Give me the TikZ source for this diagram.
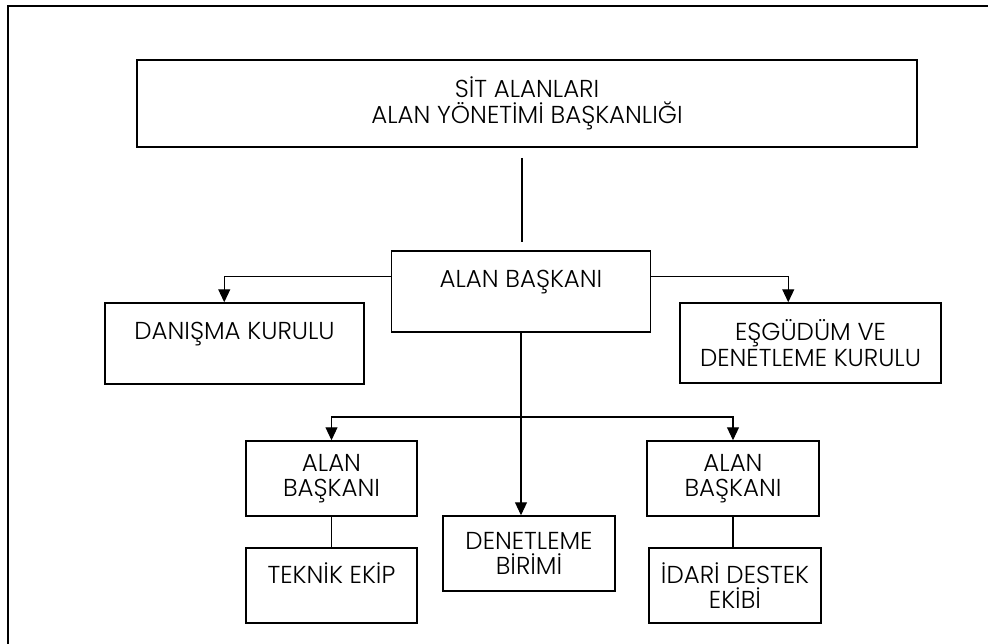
\documentclass[tikz,border=0pt]{standalone}
\usepackage{fontspec}
\setmainfont{Poppins}[UprightFont=* Light]
\usetikzlibrary{arrows.meta,calc}
\begin{document}
\begin{tikzpicture}[x=1pt,y=-1pt,
  box/.style={draw,line width=1.5pt,rectangle,inner sep=0pt,align=center,
    font=\fontsize{24.5}{25.5}\selectfont},
  conn/.style={line width=1.1pt},
  arr/.style={conn,-{Triangle[length=13pt,width=12pt]}}]
\useasboundingbox (0,0) rectangle (988,643);
% frame
\draw[line width=1.5pt] (8,650) -- (8,6) -- (995,6);
% boxes
\node[box,minimum width=780pt,minimum height=87pt] (top) at (527,103.5)
  {SİT ALANLARI\\ALAN YÖNETİMİ BAŞKANLIĞI};
\node[box,minimum width=259pt,minimum height=81pt] (main) at (521,291.5)
  {ALAN BAŞKANI\\\mbox{}};
\node[box,minimum width=259pt,minimum height=81pt] (dan) at (234.5,343.5)
  {DANIŞMA KURULU\\\mbox{}};
\node[box,minimum width=261pt,minimum height=80pt] (esg) at (810.5,343)
  {EŞGÜDÜM VE\\DENETLEME KURULU};
\node[box,minimum width=171pt,minimum height=75pt] (lb) at (331.5,478.5)
  {ALAN\\BAŞKANI};
\node[box,minimum width=172pt,minimum height=75pt] (rb) at (733,478.5)
  {ALAN\\BAŞKANI};
\node[box,minimum width=172pt,minimum height=75pt] (den) at (529,553.5)
  {DENETLEME\\BİRİMİ};
\node[box,minimum width=171pt,minimum height=75pt] (tek) at (331.5,585.5)
  {TEKNİK EKİP\\\mbox{}};
\node[box,minimum width=172pt,minimum height=75pt] (ida) at (735,585.5)
  {İDARİ DESTEK\\EKİBİ};
% connectors
\draw[conn] ($(top.south)+(-5,10)$) -- ($(main.north)+(1,-8)$);
\draw[arr] ($(main.north west)+(0,26)$) -| ($(dan.north west)+(120,0)$);
\draw[arr] ($(main.north east)+(0,26)$) -| ($(esg.north west)+(109,0)$);
\draw[arr] (main.south) -- (main.south |- den.north);
\coordinate (br) at (521,417);
\draw[arr] (br) -| (lb.north);
\draw[arr] (br) -| (rb.north);
\draw[conn] (lb.south) -- (tek.north);
\draw[conn] (rb.south) -- (rb.south |- ida.north);
\end{tikzpicture}
\end{document}
